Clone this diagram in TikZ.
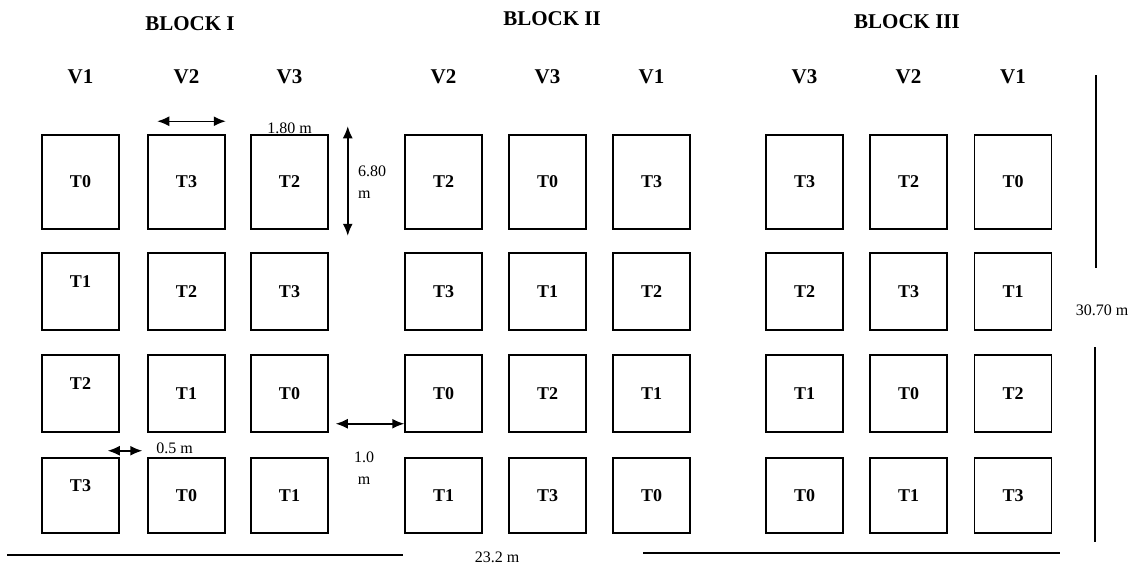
\documentclass[tikz,border=0pt]{standalone}
\usepackage{fontspec}
\setmainfont{Liberation Serif}
\usepackage{tikz}
\usetikzlibrary{arrows.meta,positioning,calc}
\tikzset{
  parcel/.style={draw,line width=1.5pt,minimum width=77pt,minimum height=77pt,
                 inner sep=0pt,font=\bfseries\fontsize{18}{18}\selectfont},
  head/.style={font=\bfseries\fontsize{21}{21}\selectfont},
  dim/.style={font=\fontsize{16}{22}\selectfont,inner sep=0pt},
  dimarrow/.style={{Latex[length=12pt,width=10pt]}-{Latex[length=12pt,width=10pt]},line width=1.5pt}
}

\begin{document}
\begin{tikzpicture}[x=1pt,y=-1pt]
    \useasboundingbox (0,0) rectangle (1133,565);
    \node[head] (blk1) at (190,24) {BLOCK I};
    \node[head] (blk2) at (552,19) {BLOCK II};
    \node[head] (blk3) at (907,22) {BLOCK III};
    % block/column/centre/variety/treatments of rows 1-4/text lift
    \foreach \b/\c/\x/\v/\ta/\tb/\tc/\td/\lift in {
      1/1/80.5/V1/T0/T1/T2/T3/20pt, 1/2/186.5/V2/T3/T2/T1/T0/0pt, 1/3/289.5/V3/T2/T3/T0/T1/0pt,
      2/1/443.5/V2/T2/T3/T0/T1/0pt, 2/2/547.5/V3/T0/T1/T2/T3/0pt, 2/3/651.5/V1/T3/T2/T1/T0/0pt,
      3/1/804.5/V3/T3/T2/T1/T0/0pt, 3/2/908.5/V2/T2/T3/T0/T1/0pt, 3/3/1013/V1/T0/T1/T2/T3/0pt}{
      \node[head] (v\b\c) at (\x,77) {\v};
      \node[parcel,minimum height=94pt] (p\b\c1) at (\x,182) {\ta};
      \node[parcel,text depth=\lift] (p\b\c2) at (\x,291.5) {\tb};
      \node[parcel,text depth=\lift] (p\b\c3) at (\x,393.5) {\tc};
      \node[parcel,minimum height=75pt,text depth=\lift] (p\b\c4) at (\x,495.5) {\td};
    }
    % plot size
    \draw[dimarrow] ($(p121.north west)+(10,-13)$) -- ($(p121.north east)+(0,-13)$);
    \node[dim,above=0pt of p131] (wid) {1.80 m};
    \draw[dimarrow] ($(p131.north east)+(19,-8)$) -- ($(p131.south east)+(19,6)$);
    \node[dim,align=left,anchor=north west] (len) at (358,166) {6.80\\m};
    % paths
    \draw[dimarrow] ($(p113.south east)+(-12,18)$) -- ($(p123.south west)+(-5,18)$);
    \node[dim,anchor=base west] (gap) at ($(p124.north west)+(9,-4)$) {0.5 m};
    \draw[dimarrow] ($(p133.south east)+(7,-9)$) -- ($(p213.south west)+(0,-9)$);
    \node[dim,align=center,anchor=north] (aisle) at (364,452) {1.0\\m};
    % field size
    \draw[line width=1.2pt] (7,555) -- (403,555) (643,553) -- (1060,553);
    \node[dim,anchor=base] (fw) at (497,562) {23.2 m};
    \draw[line width=1.2pt] (1096,75) -- (1096,268) (1095,347) -- (1095,542);
    \node[dim] (fl) at (1102,310) {30.70 m};
\end{tikzpicture}
\end{document}
